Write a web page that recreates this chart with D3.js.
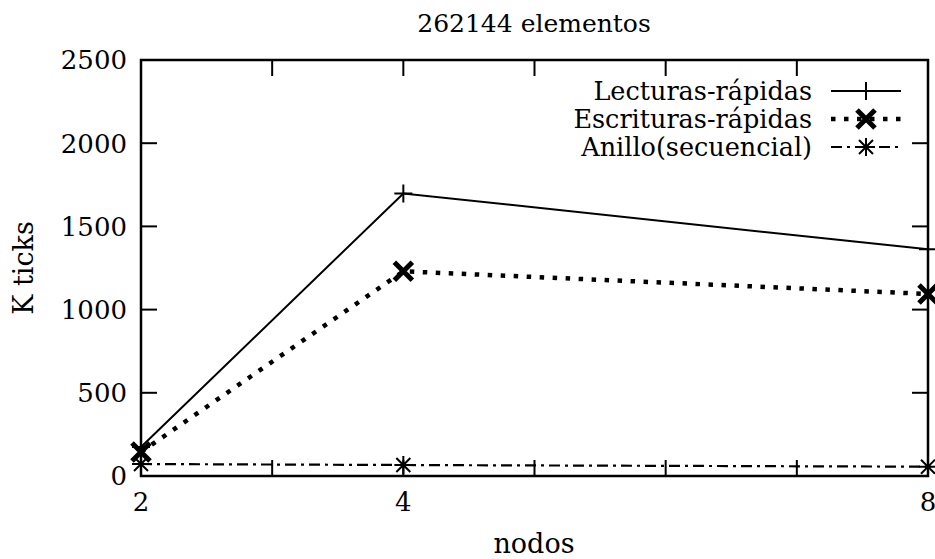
<!DOCTYPE html>
<html>
<head>
<meta charset="utf-8">
<script src="https://cdn.jsdelivr.net/npm/d3@7"></script>
<style>
  body { margin: 0; background: #fff; }
</style>
</head>
<body>
<svg width="935" height="559"></svg>
<script>
var nodos = [2, 4, 8];
var lecturas = [174, 1698, 1362];
var escrituras = [144, 1230, 1094];
var anillo = [72, 66, 56];
var xTicks = [2, 3, 4, 5, 6, 7, 8];
var xLabels = [2, 4, 8];
var yTicks = [0, 500, 1000, 1500, 2000, 2500];
var seriesNames = ["Lecturas-rápidas", "Escrituras-rápidas", "Anillo(secuencial)"];

var FONT = "'DejaVu Serif', serif";

var svg = d3.select("svg").style("font-family", FONT),
    margin = {top: 60, right: 7, bottom: 83, left: 141},
    width = +svg.attr("width") - margin.left - margin.right,
    height = +svg.attr("height") - margin.top - margin.bottom;

var x = d3.scaleLinear().domain([2, 8]).range([0, width]),
    y = d3.scaleLinear().domain([0, 2500]).range([height, 0]);

var g = svg.append("g")
    .attr("transform", "translate(" + margin.left + "," + margin.top + ")");

// ticks (inward, on all four sides)
var tickLen = 16;
xTicks.forEach(function(t) {
  g.append("line").attr("x1", x(t)).attr("x2", x(t))
    .attr("y1", height).attr("y2", height - tickLen)
    .attr("stroke", "#000").attr("stroke-width", 2);
  g.append("line").attr("x1", x(t)).attr("x2", x(t))
    .attr("y1", 0).attr("y2", tickLen)
    .attr("stroke", "#000").attr("stroke-width", 2);
});
yTicks.forEach(function(t) {
  g.append("line").attr("x1", 0).attr("x2", tickLen)
    .attr("y1", y(t)).attr("y2", y(t))
    .attr("stroke", "#000").attr("stroke-width", 2);
  g.append("line").attr("x1", width).attr("x2", width - tickLen)
    .attr("y1", y(t)).attr("y2", y(t))
    .attr("stroke", "#000").attr("stroke-width", 2);
});

// tick labels
g.selectAll(".ylab").data(yTicks).enter().append("text")
    .attr("class", "ylab")
    .attr("x", -14)
    .attr("y", function(d) { return y(d); })
    .attr("dy", "0.36em")
    .attr("text-anchor", "end")
    .style("font-size", "26px")
    .text(function(d) { return d; });

g.selectAll(".xlab").data(xLabels).enter().append("text")
    .attr("class", "xlab")
    .attr("x", function(d) { return x(d); })
    .attr("y", height + 35)
    .attr("text-anchor", "middle")
    .style("font-size", "26px")
    .text(function(d) { return d; });

// frame
g.append("rect").attr("width", width).attr("height", height)
    .attr("fill", "none").attr("stroke", "#000").attr("stroke-width", 2.5);

// titles
svg.append("text").attr("x", 534).attr("y", 32).attr("text-anchor", "middle")
    .style("font-size", "25px").text("262144 elementos");
svg.append("text").attr("x", 534).attr("y", 553).attr("text-anchor", "middle")
    .style("font-size", "27px").text("nodos");
svg.append("text")
    .attr("transform", "translate(33," + (margin.top + height / 2) + ") rotate(-90)")
    .attr("text-anchor", "middle")
    .style("font-size", "27px").text("K ticks");

// markers
function plus(sel, px, py) {
  sel.append("path").attr("d", "M" + (px - 9) + "," + py + "h18M" + px + "," + (py - 9) + "v18")
    .attr("stroke", "#000").attr("stroke-width", 2).attr("fill", "none");
}
function cross(sel, px, py) {
  sel.append("path").attr("d", "M" + (px - 9) + "," + (py - 9) + "l18,18M" + (px - 9) + "," + (py + 9) + "l18,-18")
    .attr("stroke", "#000").attr("stroke-width", 5).attr("fill", "none");
}
function star(sel, px, py) {
  sel.append("path").attr("d", "M" + (px - 9) + "," + py + "h18M" + px + "," + (py - 9) + "v18" +
      "M" + (px - 7) + "," + (py - 7) + "l14,14M" + (px - 7) + "," + (py + 7) + "l14,-14")
    .attr("stroke", "#000").attr("stroke-width", 2).attr("fill", "none");
}

var series = [
  {name: seriesNames[0], values: lecturas, width: 2, dash: null, marker: plus},
  {name: seriesNames[1], values: escrituras, width: 4.5, dash: "4.5,8.5", marker: cross},
  {name: seriesNames[2], values: anillo, width: 2.2, dash: "11,5,3,5", marker: star}
];

var line = d3.line()
    .x(function(d, i) { return x(nodos[i]); })
    .y(function(d) { return y(d); });

series.forEach(function(s) {
  g.append("path").datum(s.values)
    .attr("d", line)
    .attr("fill", "none")
    .attr("stroke", "#000")
    .attr("stroke-width", s.width)
    .attr("stroke-dasharray", s.dash);
  s.values.forEach(function(v, i) { s.marker(g, x(nodos[i]), y(v)); });
});

// legend
var legend = svg.append("g");
series.forEach(function(s, i) {
  var ly = 91 + i * 28;
  legend.append("text").attr("x", 812).attr("y", ly).attr("dy", "0.34em")
    .attr("text-anchor", "end").style("font-size", "25.5px").text(s.name);
  legend.append("line").attr("x1", 831).attr("x2", 901).attr("y1", ly).attr("y2", ly)
    .attr("stroke", "#000").attr("stroke-width", s.width)
    .attr("stroke-dasharray", s.dash);
  s.marker(legend, 866, ly);
});
</script>
</body>
</html>
